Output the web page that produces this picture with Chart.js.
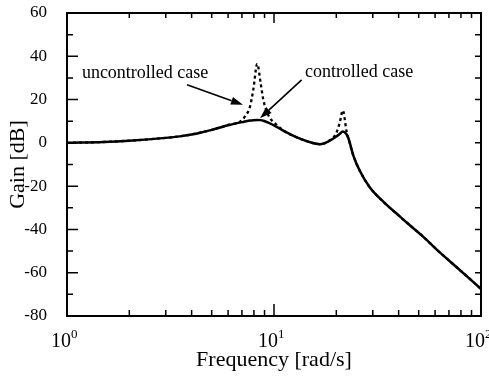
<!DOCTYPE html>
<html lang="en">
<head>
  <meta charset="UTF-8">
  <title>Gain vs Frequency</title>
  <script src="https://cdn.jsdelivr.net/npm/chart.js"></script>
  <style>
    html, body { margin: 0; padding: 0; background: #fff; }
    #wrap { width: 489px; height: 376px; }
  </style>
</head>
<body>
  <div id="wrap">
    <canvas id="gainChart" width="489" height="376"></canvas>
  </div>

  <script>
    // frequency [rad/s] samples
    const freq = [1, 1.5, 2, 3, 3.5, 4, 4.4, 5, 5.5, 6, 6.85, 7.24, 7.66, 7.94, 8.3, 8.62, 8.88, 9.38,
      10.3, 11.5, 12.9, 14.5, 16.7, 18.6, 20.0, 20.8, 21.5, 22.4, 22.9, 24.2, 26, 29, 34, 40, 44, 52.5, 63, 77, 100];

    // gain [dB]
    const controlled = [0, 0.4, 1.0, 2.3, 3.0, 3.9, 4.7, 6.0, 7.1, 8.1, 9.4, 9.9, 10.3, 10.5, 10.6, 10.5, 10.2, 9.3,
      7.4, 4.8, 2.5, 0.7, -0.6, 1.0, 2.9, 4.2, 5.3, 4.0, 2.0, -6, -13, -20.5, -27.5, -33.5, -37, -43.3, -50.5, -57.8, -67.5];
    const uncontrolled = [0, 0.4, 1.0, 2.3, 3.0, 3.9, 4.7, 6.0, 7.1, 8.3, 9.8, 12.2, 16.8, 24.5, 36.5, 27.6, 19.9, 12.9,
      8.3, 4.8, 2.5, 0.7, -0.6, 1.2, 4.6, 9.5, 15.0, 5.5, 2.0, -6, -13, -20.5, -27.5, -33.5, -37, -43.3, -50.5, -57.8, -67.5];

    // axis ticks
    const xMajor = [1, 10, 100];
    const xMinor = [2, 3, 4, 5, 6, 7, 8, 9, 20, 30, 40, 50, 60, 70, 80, 90];
    const xExponents = ['0', '1', '2'];
    const yTicks = [-80, -70, -60, -50, -40, -30, -20, -10, 0, 10, 20, 30, 40, 50, 60];

    const serif = '"Liberation Serif", "Times New Roman", serif';

    const toPoints = vals => freq.map((f, i) => ({ x: f, y: vals[i] }));

    // box, inward ticks, decade labels, annotations
    const decorations = {
      id: 'decorations',
      afterDatasetsDraw(chart) {
        const { ctx, chartArea: a, scales: { x, y } } = chart;
        ctx.save();
        ctx.strokeStyle = '#000';
        ctx.fillStyle = '#000';

        ctx.lineWidth = 2;
        ctx.strokeRect(a.left, a.top, a.right - a.left, a.bottom - a.top);

        ctx.lineWidth = 1.5;
        ctx.beginPath();
        xMajor.concat(xMinor).forEach(v => {
          const px = x.getPixelForValue(v);
          const major = xMajor.includes(v);
          ctx.moveTo(px, a.bottom);
          ctx.lineTo(px, a.bottom - (major ? 12 : 6));
          ctx.moveTo(px, a.top);
          ctx.lineTo(px, a.top + (major ? 10 : 5));
        });
        yTicks.forEach(v => {
          const py = y.getPixelForValue(v);
          const major = v % 20 === 0;
          ctx.moveTo(a.left, py);
          ctx.lineTo(a.left + (major ? 11 : 6), py);
          ctx.moveTo(a.right, py);
          ctx.lineTo(a.right - 6, py);
        });
        ctx.stroke();

        // 10^n labels
        ctx.textBaseline = 'alphabetic';
        ctx.textAlign = 'left';
        xMajor.forEach((v, i) => {
          const px = x.getPixelForValue(v);
          ctx.font = '20px ' + serif;
          const w1 = ctx.measureText('10').width;
          const start = px - 16;
          ctx.fillText('10', start, a.bottom + 31);
          ctx.font = '13px ' + serif;
          ctx.fillText(xExponents[i], start + w1, a.bottom + 22);
        });

        // annotations
        ctx.font = '18px ' + serif;
        ctx.textBaseline = 'middle';
        ctx.fillText('uncontrolled case', x.getPixelForValue(1.18), y.getPixelForValue(32));
        ctx.fillText('controlled case', x.getPixelForValue(14.1), y.getPixelForValue(32.8));

        const arrow = (f0, g0, f1, g1) => {
          const x0 = x.getPixelForValue(f0), y0 = y.getPixelForValue(g0);
          const x1 = x.getPixelForValue(f1), y1 = y.getPixelForValue(g1);
          const ang = Math.atan2(y1 - y0, x1 - x0);
          const len = 12, half = 4;
          const bx = x1 - len * Math.cos(ang), by = y1 - len * Math.sin(ang);
          ctx.lineWidth = 1.6;
          ctx.beginPath();
          ctx.moveTo(x0, y0);
          ctx.lineTo(bx, by);
          ctx.stroke();
          ctx.beginPath();
          ctx.moveTo(x1, y1);
          ctx.lineTo(bx + half * Math.sin(ang), by - half * Math.cos(ang));
          ctx.lineTo(bx - half * Math.sin(ang), by + half * Math.cos(ang));
          ctx.closePath();
          ctx.fill();
        };
        arrow(3.8, 26.8, 7.08, 17.6);
        arrow(13.6, 29.1, 8.56, 11.4);

        ctx.restore();
      }
    };

    new Chart(document.getElementById('gainChart'), {
      type: 'line',
      data: {
        datasets: [
          {
            label: 'controlled case',
            data: toPoints(controlled),
            borderColor: '#000',
            borderWidth: 2.5,
            pointRadius: 0,
            cubicInterpolationMode: 'monotone'
          },
          {
            label: 'uncontrolled case',
            data: toPoints(uncontrolled),
            borderColor: '#000',
            borderWidth: 2.3,
            borderDash: [3, 3],
            pointRadius: 0,
            cubicInterpolationMode: 'monotone'
          }
        ]
      },
      options: {
        responsive: false,
        devicePixelRatio: 1,
        animation: false,
        layout: { padding: { top: 13, right: 8, left: 0, bottom: 0 } },
        plugins: {
          legend: { display: false },
          tooltip: { enabled: false }
        },
        scales: {
          x: {
            type: 'logarithmic',
            min: 1,
            max: 100,
            grid: { display: false },
            border: { display: false },
            ticks: { display: false },
            title: {
              display: true,
              text: 'Frequency [rad/s]',
              color: '#000',
              font: { family: serif, size: 22 },
              padding: { top: 0, bottom: 3 }
            },
            afterFit: s => { s.height = 60; s.paddingLeft = 0; s.paddingRight = 0; }
          },
          y: {
            min: -80,
            max: 60,
            grid: { display: false },
            border: { display: false },
            ticks: {
              stepSize: 20,
              color: '#000',
              padding: 12,
              font: { family: serif, size: 17 }
            },
            title: {
              display: true,
              text: 'Gain [dB]',
              color: '#000',
              font: { family: serif, size: 22 },
              padding: { top: 5, bottom: 0 }
            },
            afterFit: s => { s.width = 67; s.paddingTop = 0; s.paddingBottom = 0; }
          }
        }
      },
      plugins: [decorations]
    });
  </script>
</body>
</html>
